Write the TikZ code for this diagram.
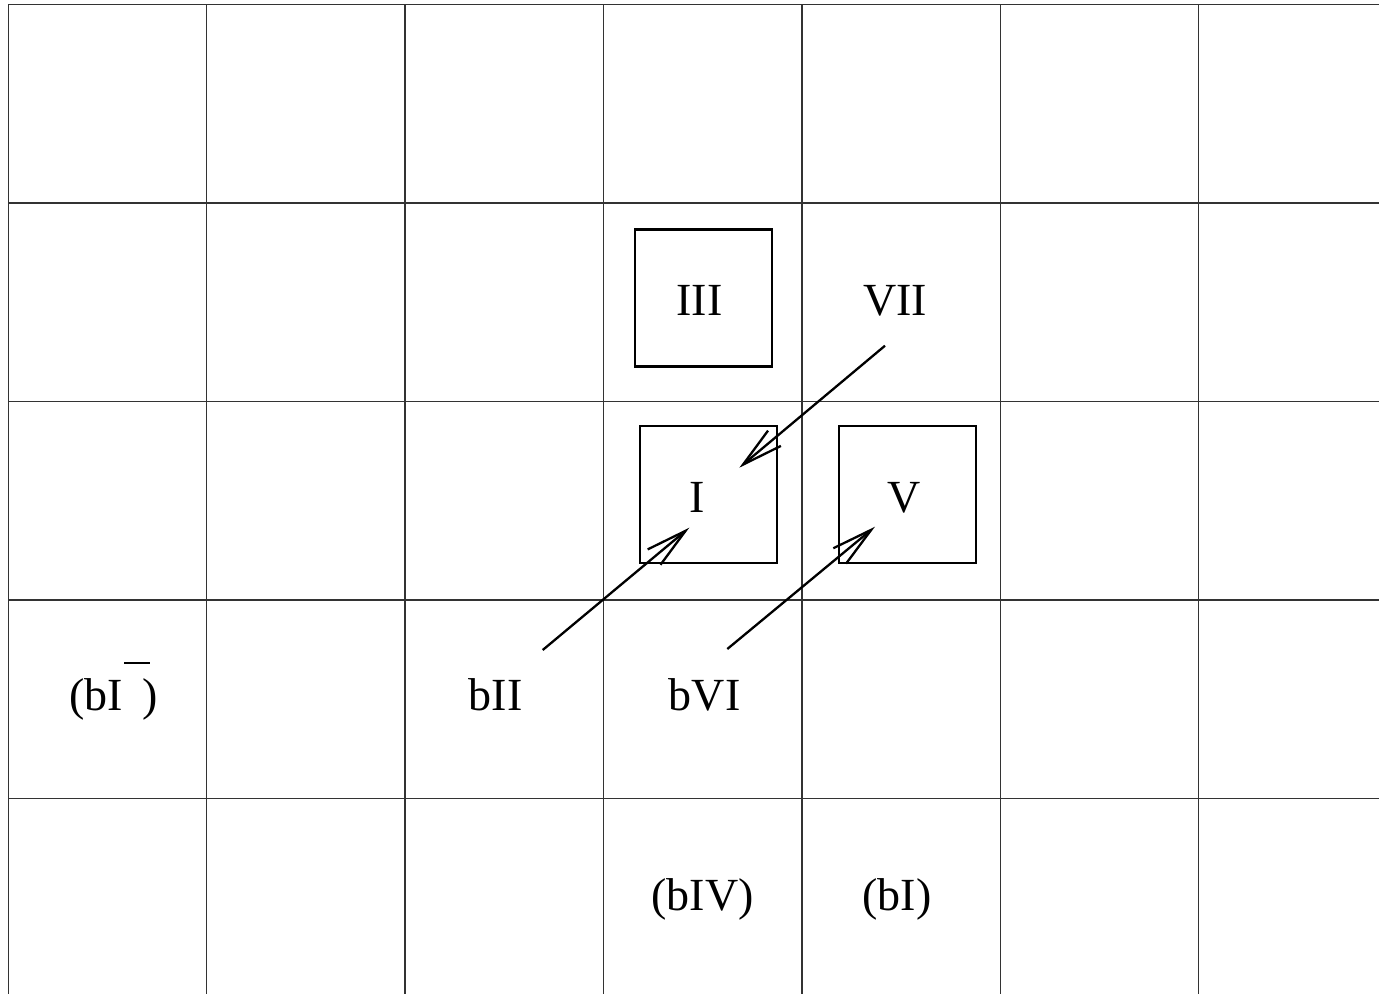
\documentclass[tikz,border=0pt]{standalone}
\usepackage{fontspec}
\setmainfont{Liberation Serif}
\usetikzlibrary{arrows.meta}
\begin{document}
\begin{tikzpicture}[x=1pt,y=-1pt,
  gridline/.style={line width=1.4pt,draw=black!80},
  boxnode/.style={draw,line width=2.4pt,minimum width=137pt,minimum height=137pt,inner sep=0pt},
  lbl/.style={anchor=base,inner sep=0pt,font=\fontsize{46}{55}\selectfont},
  arr/.style={line width=2.3pt,-{Straight Barb[length=41pt,width=20pt,line width=2.3pt]}}]
\useasboundingbox (0,0) rectangle (1379,994);
% grid
\foreach \i in {0,...,6}{
  \draw[gridline] ({8.3+198.4*\i},4.7) -- ({8.3+198.4*\i},994);
}
\foreach \j in {0,...,4}{
  \draw[gridline] (8.3,{4.7+198.4*\j}) -- (1379,{4.7+198.4*\j});
}
% boxes
\node[boxnode] (boxIII) at (703.7,298) {};
\node[boxnode] (boxI) at (708.7,494.2) {};
\node[boxnode] (boxV) at (907.3,494.2) {};
% labels
\node[lbl] (III) at (699.5,315) {III};
\node[lbl] (VII) at (895,315) {VII};
\node[lbl] (I) at (697.5,512.7) {I};
\node[lbl] (V) at (904.3,512.7) {V};
\node[lbl] (bII) at (495.8,710.7) {bII};
\node[lbl] (bVI) at (704.7,710.7) {bVI};
\node[lbl] (bIV) at (702.5,910) {(bIV)};
\node[lbl] (bI) at (897,910) {(bI)};
\node[lbl,anchor=base west] (bIbar) at (69,710.7) {(bI\hspace{1.4pt}\rlap{\raisebox{47pt}{\rule{26pt}{2.2pt}}}\hspace{18pt})};
% arrows
\coordinate (bIIs) at (542.7,650);
\coordinate (bIIt) at (689.3,527.7);
\coordinate (bVIs) at (727.3,649);
\coordinate (bVIt) at (875,526.7);
\coordinate (VIIs) at (885,345.7);
\coordinate (VIIt) at (739.3,467.7);
\draw[arr] (bIIs) -- (bIIt);
\draw[arr] (bVIs) -- (bVIt);
\draw[arr] (VIIs) -- (VIIt);
\end{tikzpicture}
\end{document}
